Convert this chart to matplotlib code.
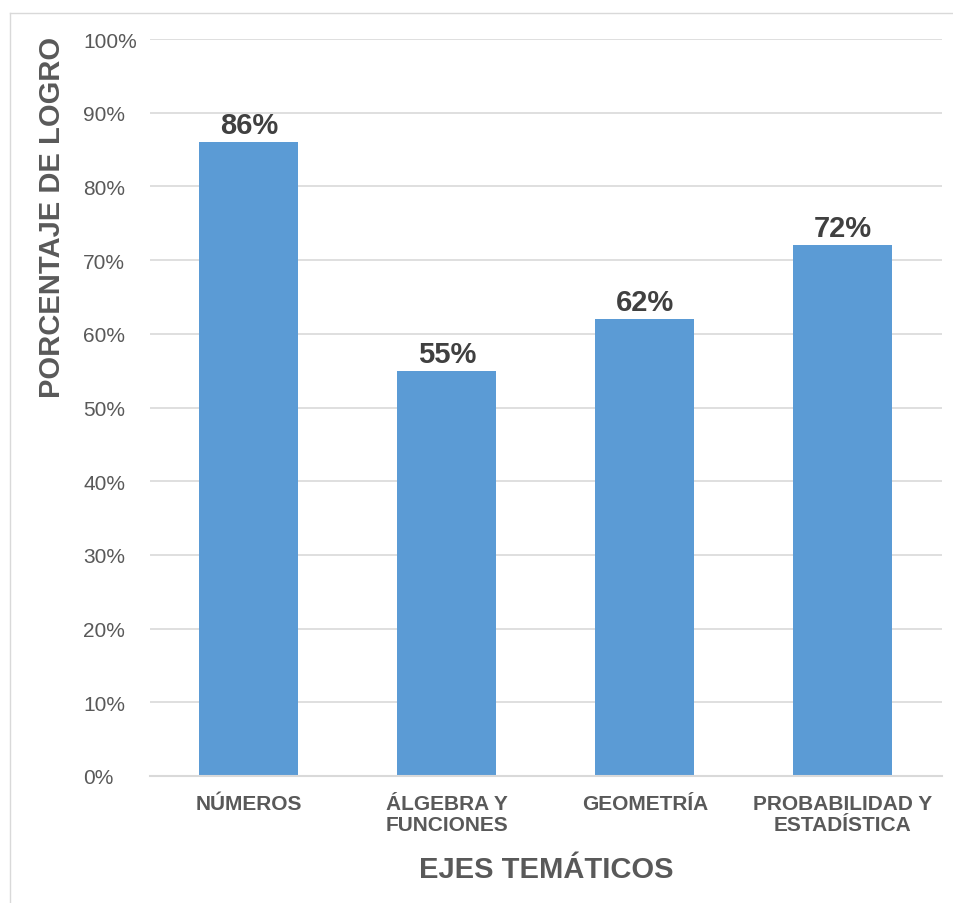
import matplotlib.pyplot as plt
from matplotlib.lines import Line2D
from matplotlib.ticker import FuncFormatter

plt.rcParams['font.family'] = ['Liberation Sans', 'DejaVu Sans']

categories = ["NÚMEROS", "ÁLGEBRA Y\nFUNCIONES", "GEOMETRÍA", "PROBABILIDAD Y\nESTADÍSTICA"]
values = [86, 55, 62, 72]
yticks = [0, 10, 20, 30, 40, 50, 60, 70, 80, 90, 100]

W, H = 954, 904
fig = plt.figure(figsize=(W / 100, H / 100), dpi=100)

# outer light frame (left and top edges visible in reference)
fig.add_artist(Line2D([10 / W, 10 / W], [0, 1 - 14 / H], color="#D9D9D9", lw=1))
fig.add_artist(Line2D([10 / W, 1], [1 - 14 / H, 1 - 14 / H], color="#D9D9D9", lw=1))

ax = fig.add_axes([150 / W, 1 - 777 / H, 792 / W, 737 / H])
x = list(range(len(categories)))
bars = ax.bar(x, values, width=0.5, color="#5B9BD5", zorder=3)

for b, v in zip(bars, values):
    ax.text(b.get_x() + b.get_width() / 2, v + 0.4, f"{v}%", ha="center", va="bottom",
            fontsize=21, fontweight="bold", color="#404040")

ax.set_xlim(-0.5, len(categories) - 0.5)
ax.set_ylim(0, 100)
ax.set_yticks(yticks)
ax.yaxis.set_major_formatter(FuncFormatter(lambda v, p: f"{v:.0f}%"))
ax.grid(axis="y", color="#D9D9D9", lw=1.2, zorder=0)
for s in ["top", "right", "left"]:
    ax.spines[s].set_visible(False)
ax.spines["bottom"].set_color("#D9D9D9")
ax.spines["bottom"].set_linewidth(1.5)
ax.spines["bottom"].set_zorder(4)

ax.set_xticks(x)
ax.set_xticklabels(categories, fontsize=15, fontweight="bold", color="#595959",
                   linespacing=1.1)
ax.tick_params(axis="x", length=0, pad=13)
# y labels are left-aligned, starting ~67 px left of the plot area
ax.tick_params(axis="y", length=0, labelsize=15, labelcolor="#595959", pad=48)
for lbl in ax.get_yticklabels():
    lbl.set_horizontalalignment("left")

fig.text(546 / W, 1 - 870 / H, "EJES TEMÁTICOS", ha="center", va="center",
         fontsize=21, fontweight="bold", color="#595959")
fig.text(52 / W, 1 - 217 / H, "PORCENTAJE DE LOGRO", ha="center", va="center",
         rotation=90, fontsize=21, fontweight="bold", color="#595959")

fig.savefig("out.png", dpi=100, facecolor="white")
